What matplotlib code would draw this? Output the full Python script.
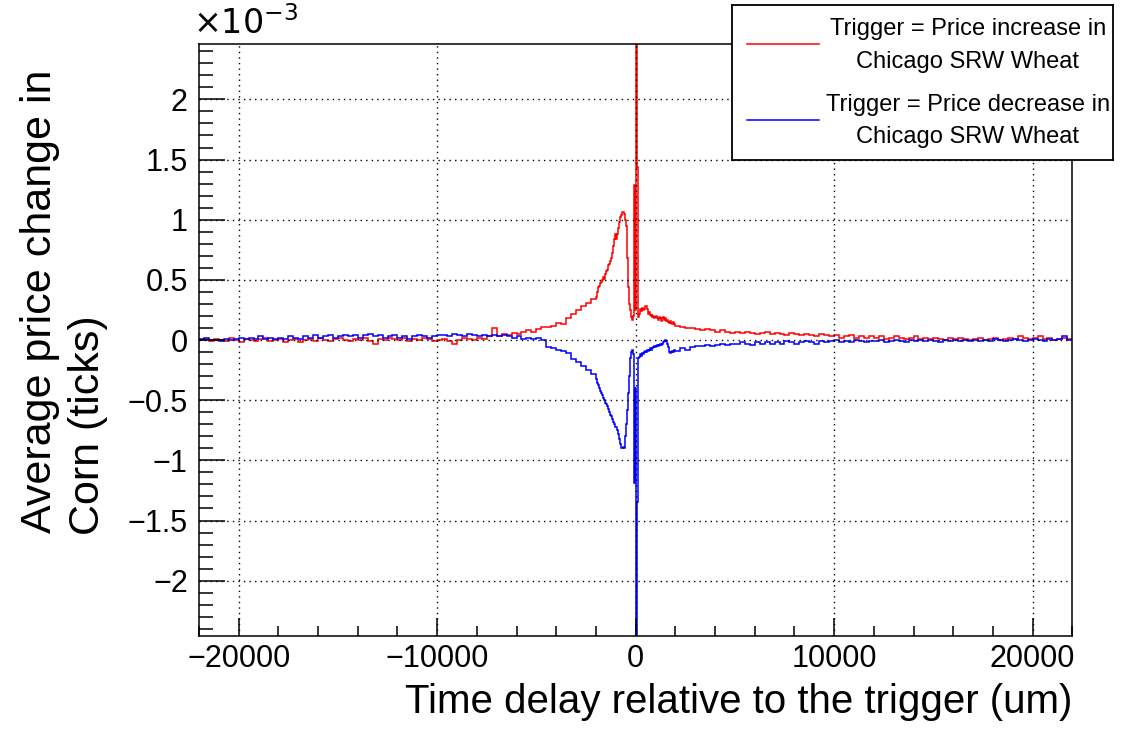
import numpy as np
import matplotlib
matplotlib.use("Agg")
import matplotlib.pyplot as plt
from matplotlib.ticker import MultipleLocator, FuncFormatter

plt.rcParams['font.family'] = ['Liberation Sans', 'DejaVu Sans']

# bin edges (time delay, um): coarse outside, fine around the trigger
left_edges = np.arange(-22000, -2000 + 1, 250)
center_edges = np.arange(-2000, 2000 + 1, 50)
right_edges = np.arange(2000, 22000 + 1, 250)
edges = np.concatenate([left_edges[:-1], center_edges[:-1], right_edges])

# average price change, in units of 1e-3 ticks
red_left = [
    0.00, 0.01, -0.01, 0.01, 0.00, -0.01, 0.02, 0.00, -0.02, 0.01,
    0.00, -0.01, 0.01, 0.02, -0.01, 0.00, 0.01, -0.02, 0.00, 0.01,
    -0.02, 0.00, 0.01, -0.01, 0.02, 0.00, -0.01, 0.01, 0.02, 0.00,
    -0.01, 0.01, 0.00, 0.02, -0.01, -0.03, 0.01, 0.00, 0.02, 0.01,
    0.00, 0.02, -0.01, 0.01, 0.00, 0.02, 0.01, -0.01, 0.00, 0.01,
    -0.01, -0.03, 0.00, 0.02, 0.01, 0.00, 0.02, 0.01, 0.03, 0.10,
    0.03, 0.05, 0.04, 0.06, 0.05, 0.07, 0.08, 0.07, 0.09, 0.11,
    0.11, 0.12, 0.14, 0.13, 0.18, 0.22, 0.25, 0.28, 0.31, 0.34,
]
red_center = [
    0.36, 0.40, 0.44, 0.45, 0.47, 0.48, 0.50, 0.52, 0.51, 0.55,
    0.57, 0.58, 0.62, 0.63, 0.66, 0.68, 0.72, 0.78, 0.84, 0.88,
    0.84, 0.88, 0.93, 0.98, 1.02, 1.04, 1.06, 1.06, 1.05, 1.00,
    0.95, 0.68, 0.44, 0.30, 0.25, 0.19, 0.17, 0.20, 1.29, 0.25,
    3.00, 1.44, 0.19, 0.22, 0.26, 0.24, 0.27, 0.25, 0.26, 0.28,
    0.28, 0.26, 0.22, 0.23, 0.21, 0.20, 0.22, 0.19, 0.20, 0.18,
    0.19, 0.20, 0.18, 0.17, 0.19, 0.18, 0.16, 0.18, 0.19, 0.17,
    0.18, 0.16, 0.17, 0.15, 0.14, 0.16, 0.14, 0.13, 0.15, 0.13,
]
red_right = [
    0.12, 0.11, 0.10, 0.10, 0.09, 0.08, 0.09, 0.08, 0.07, 0.08,
    0.07, 0.06, 0.07, 0.06, 0.07, 0.06, 0.05, 0.06, 0.07, 0.05,
    0.06, 0.05, 0.04, 0.06, 0.05, 0.04, 0.05, 0.04, 0.03, 0.05,
    0.04, 0.03, 0.04, 0.02, 0.03, 0.04, 0.02, 0.03, 0.02, 0.03,
    0.02, 0.03, 0.01, 0.02, 0.03, 0.02, 0.01, 0.02, 0.03, 0.01,
    0.02, 0.01, 0.02, 0.01, 0.00, 0.02, 0.01, 0.02, 0.01, 0.00,
    0.01, 0.02, 0.00, 0.01, 0.02, 0.00, 0.01, 0.02, 0.01, 0.03,
    0.02, 0.01, 0.02, 0.03, 0.01, 0.02, 0.00, 0.01, 0.02, 0.01,
]

blue_left = [
    0.01, 0.02, 0.00, 0.00, -0.01, 0.01, 0.00, 0.01, 0.02, 0.01,
    0.02, 0.01, 0.03, 0.01, 0.02, 0.01, 0.02, 0.01, 0.03, 0.02,
    0.01, 0.03, 0.02, 0.04, 0.02, 0.03, 0.04, 0.02, 0.03, 0.04,
    0.03, 0.04, 0.02, 0.04, 0.05, 0.03, 0.04, 0.02, 0.03, 0.04,
    0.02, 0.03, 0.01, 0.03, 0.04, 0.03, 0.02, 0.03, 0.04, 0.04,
    0.03, 0.05, 0.04, 0.03, 0.05, 0.04, 0.03, 0.04, 0.03, 0.04,
    0.03, 0.04, 0.03, 0.02, 0.03, 0.01, 0.02, 0.01, 0.02, 0.00,
    -0.06, -0.07, -0.08, -0.09, -0.11, -0.16, -0.18, -0.22, -0.25, -0.28,
]
blue_center = [
    -0.32, -0.36, -0.37, -0.40, -0.42, -0.44, -0.46, -0.48, -0.50, -0.52,
    -0.53, -0.55, -0.57, -0.60, -0.62, -0.63, -0.66, -0.68, -0.70, -0.72,
    -0.72, -0.75, -0.78, -0.82, -0.86, -0.90, -0.90, -0.89, -0.90, -0.80,
    -0.70, -0.58, -0.44, -0.30, -0.15, -0.10, -0.08, -0.12, -1.19, -0.40,
    -3.00, -1.35, -0.15, -0.14, -0.12, -0.13, -0.11, -0.12, -0.10, -0.09,
    -0.10, -0.08, -0.09, -0.08, -0.07, -0.08, -0.06, -0.07, -0.06, -0.05,
    -0.06, -0.05, -0.04, -0.05, -0.04, -0.03, -0.04, -0.03, -0.02, -0.01,
    0.00, -0.01, -0.03, -0.06, -0.10, -0.11, -0.10, -0.09, -0.10, -0.08,
]
blue_right = [
    -0.09, -0.07, -0.08, -0.06, -0.05, -0.05, -0.04, -0.05, -0.04, -0.03,
    -0.04, -0.03, -0.03, -0.02, -0.03, -0.04, -0.02, -0.03, -0.02, -0.03,
    -0.02, -0.03, -0.01, -0.02, -0.03, -0.02, -0.01, -0.02, -0.03, -0.01,
    -0.02, -0.01, 0.00, -0.02, -0.01, -0.02, 0.00, -0.01, -0.02, -0.01,
    -0.01, 0.00, -0.02, -0.01, 0.00, -0.01, -0.02, 0.00, -0.01, 0.00,
    -0.01, 0.00, -0.01, -0.02, 0.00, -0.01, 0.00, -0.01, 0.00, -0.01,
    0.00, -0.01, 0.00, -0.01, 0.01, 0.00, -0.01, 0.00, 0.01, 0.00,
    -0.01, 0.00, 0.01, 0.00, -0.01, 0.01, 0.00, 0.01, 0.03, 0.00,
]

red_vals = np.array(red_left + red_center + red_right)
blue_vals = np.array(blue_left + blue_center + blue_right)

legend_labels = ["Trigger = Price increase in\nChicago SRW Wheat",
                 "Trigger = Price decrease in\nChicago SRW Wheat"]

fig = plt.figure(figsize=(11.24, 7.34), dpi=100)
ax = fig.add_axes([0.177, 0.1335, 0.777, 0.8065])

ax.stairs(red_vals, edges, color='#ff0000', linewidth=1.1, baseline=None)
ax.stairs(blue_vals, edges, color='#0000ff', linewidth=1.1, baseline=None)

ax.set_xlim(-22000, 22000)
ax.set_ylim(-2.46, 2.46)

ax.xaxis.set_major_locator(MultipleLocator(10000))
ax.xaxis.set_minor_locator(MultipleLocator(2000))
ax.yaxis.set_major_locator(MultipleLocator(0.5))
ax.yaxis.set_minor_locator(MultipleLocator(0.1))

fmt = FuncFormatter(lambda v, p: ('%g' % round(v, 3)).replace('-', '\u2212'))
ax.xaxis.set_major_formatter(fmt)
ax.yaxis.set_major_formatter(fmt)

ax.tick_params(axis='both', which='both', direction='in', width=1.1,
               labelsize=22, top=False, right=False)
ax.tick_params(axis='y', which='major', length=19, pad=8)
ax.tick_params(axis='y', which='minor', length=10)
ax.tick_params(axis='x', which='major', length=13, pad=6)
ax.tick_params(axis='x', which='minor', length=7)

ax.grid(True, which='major', color='black', linestyle=(0, (1, 3)), linewidth=1.0)
ax.set_axisbelow(False)
for s in ax.spines.values():
    s.set_linewidth(1.1)

ax.set_xlabel("Time delay relative to the trigger (um)", fontsize=29,
              ha='right', x=1.0, labelpad=6)

fig.text(0.036, 0.59, "Average price change in", rotation=90, fontsize=31,
         ha='center', va='center')
fig.text(0.078, 0.271, "Corn (ticks)", rotation=90, fontsize=31,
         ha='center', va='bottom')
fig.text(0.172, 0.944, r"$\times10^{-3}$", fontsize=24, ha='left', va='bottom')

# legend box
lax = fig.add_axes([0.651, 0.782, 0.339, 0.211])
lax.set_xlim(0, 1)
lax.set_ylim(0, 1)
lax.set_xticks([])
lax.set_yticks([])
for s in lax.spines.values():
    s.set_linewidth(1.3)
lax.plot([0.04, 0.23], [0.75, 0.75], color='#ff0000', linewidth=1.1)
lax.plot([0.04, 0.23], [0.26, 0.26], color='#0000ff', linewidth=1.1)
lax.text(0.62, 0.74, legend_labels[0], fontsize=17, ha='center', va='center',
         linespacing=1.6)
lax.text(0.62, 0.25, legend_labels[1], fontsize=17, ha='center', va='center',
         linespacing=1.6)

fig.savefig("out.png", dpi=100)
